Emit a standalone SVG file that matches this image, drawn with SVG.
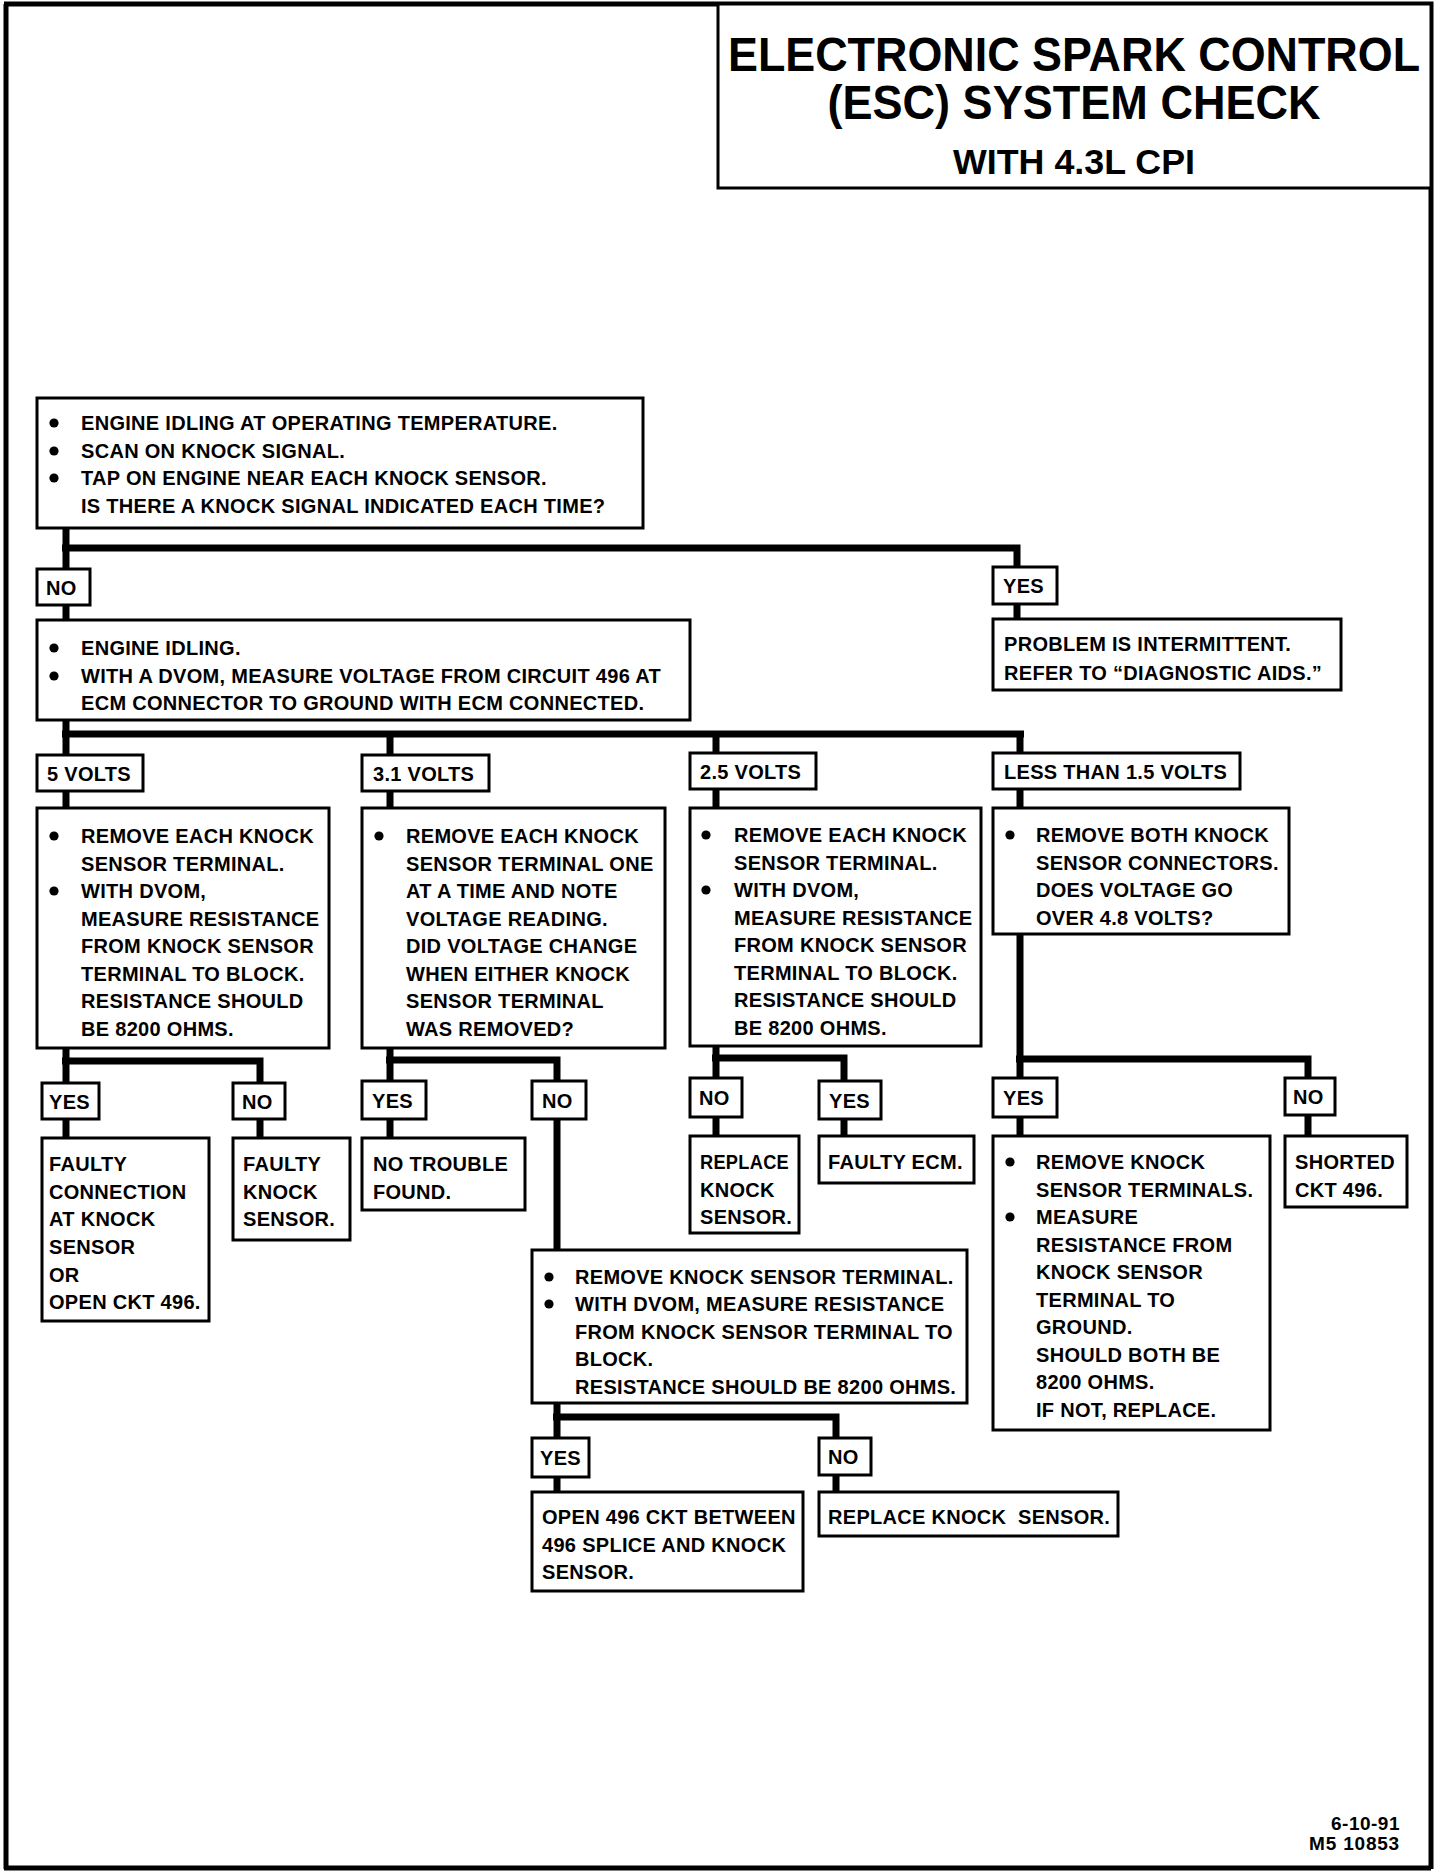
<svg xmlns="http://www.w3.org/2000/svg" width="1456" height="1874" viewBox="0 0 1456 1874">
<style>
.bx{fill:#fff;stroke:#000;stroke-width:3}
.fr{fill:none;stroke:#000;stroke-width:5}
.c{fill:none;stroke:#000;stroke-width:7}
.dot{fill:#000}
text{font-family:"Liberation Sans",Arial,sans-serif;font-weight:bold;fill:#000}
.t{font-size:20px;letter-spacing:0.3px}
.h{text-anchor:middle}
</style>
<defs><circle id="bul" class="dot" r="4.6"/></defs>
<rect width="1456" height="1874" fill="#fff"/>
<path class="fr" d="M6,4 V1869 M4,4 H1431 V1869 M4,1868 H1431"/>
<g id="title">
<rect class="bx" x="718" y="4" width="713" height="184"/>
<text class="h" transform="matrix(0.9 0 0 1 1074 71)" font-size="49" textLength="769" lengthAdjust="spacingAndGlyphs">ELECTRONIC SPARK CONTROL</text>
<text class="h" transform="matrix(0.9 0 0 1 1074 119)" font-size="49" textLength="548" lengthAdjust="spacingAndGlyphs">(ESC) SYSTEM CHECK</text>
<text class="h" transform="matrix(0.9 0 0 1 1074 174)" font-size="36" textLength="269" lengthAdjust="spacingAndGlyphs">WITH 4.3L CPI</text>
</g>
<g id="connectors">
<path class="c" d="M66,528 V569 M62,548 H1017 V567"/>
<path class="c" d="M66,605 V620 M1017,604 V619"/>
<path class="c" d="M66,720 V755 M62,734 H1024 M390,734 V755 M716,734 V753 M1020,734 V753"/>
<path class="c" d="M66,791 V808 M390,791 V808 M716,789 V808 M1020,789 V808"/>
<path class="c" d="M66,1048 V1083 M62,1061 H260 V1083 M66,1119 V1138 M260,1119 V1138"/>
<path class="c" d="M390,1048 V1081 M386,1060 H557 V1081 M390,1119 V1138 M557,1119 V1250"/>
<path class="c" d="M557,1403 V1438 M553,1417 H836 V1438 M557,1477 V1492 M836,1475 V1492"/>
<path class="c" d="M716,1046 V1078 M712,1058 H844 V1081 M716,1117 V1136 M844,1119 V1136"/>
<path class="c" d="M1020,934 V1078 M1016,1059 H1308 V1078 M1020,1117 V1136 M1308,1115 V1136"/>
</g>
<g id="n-start">
<rect class="bx" x="37" y="398" width="606" height="130"/>
<use href="#bul" x="54" y="423"/><use href="#bul" x="54" y="451"/><use href="#bul" x="54" y="478"/>
<text class="t" x="81" y="430">ENGINE IDLING AT OPERATING TEMPERATURE.</text>
<text class="t" x="81" y="458">SCAN ON KNOCK SIGNAL.</text>
<text class="t" x="81" y="485">TAP ON ENGINE NEAR EACH KNOCK SENSOR.</text>
<text class="t" x="81" y="513">IS THERE A KNOCK SIGNAL INDICATED EACH TIME?</text>
</g>
<g id="l-no1"><rect class="bx" x="37" y="569" width="53" height="36"/><text class="t" x="46" y="595">NO</text></g>
<g id="l-yes1"><rect class="bx" x="993" y="567" width="64" height="37"/><text class="t" x="1003" y="593">YES</text></g>
<g id="n-idle">
<rect class="bx" x="37" y="620" width="653" height="100"/>
<use href="#bul" x="54" y="648"/><use href="#bul" x="54" y="676"/>
<text class="t" x="81" y="655">ENGINE IDLING.</text>
<text class="t" x="81" y="683" letter-spacing="0.55">WITH A DVOM, MEASURE VOLTAGE FROM CIRCUIT 496 AT</text>
<text class="t" x="81" y="710">ECM CONNECTOR TO GROUND WITH ECM CONNECTED.</text>
</g>
<g id="n-intermittent">
<rect class="bx" x="993" y="619" width="348" height="71"/>
<text class="t" x="1004" y="651">PROBLEM IS INTERMITTENT.</text>
<text class="t" x="1004" y="680">REFER TO “DIAGNOSTIC AIDS.”</text>
</g>
<g id="l-5v"><rect class="bx" x="37" y="755" width="106" height="36"/><text class="t" x="47" y="781">5 VOLTS</text></g>
<g id="l-31v"><rect class="bx" x="362" y="755" width="127" height="36"/><text class="t" x="373" y="781">3.1 VOLTS</text></g>
<g id="l-25v"><rect class="bx" x="690" y="753" width="126" height="36"/><text class="t" x="700" y="779">2.5 VOLTS</text></g>
<g id="l-less"><rect class="bx" x="993" y="753" width="247" height="36"/><text class="t" x="1004" y="779">LESS THAN 1.5 VOLTS</text></g>
<g id="n-5v">
<rect class="bx" x="37" y="808" width="292" height="240"/>
<use href="#bul" x="54" y="836"/><use href="#bul" x="54" y="891"/>
<text class="t" x="81" y="843">REMOVE EACH KNOCK</text>
<text class="t" x="81" y="871">SENSOR TERMINAL.</text>
<text class="t" x="81" y="898">WITH DVOM,</text>
<text class="t" x="81" y="926">MEASURE RESISTANCE</text>
<text class="t" x="81" y="953">FROM KNOCK SENSOR</text>
<text class="t" x="81" y="981">TERMINAL TO BLOCK.</text>
<text class="t" x="81" y="1008">RESISTANCE SHOULD</text>
<text class="t" x="81" y="1036">BE 8200 OHMS.</text>
</g>
<g id="n-31v">
<rect class="bx" x="362" y="808" width="303" height="240"/>
<use href="#bul" x="379" y="836"/>
<text class="t" x="406" y="843">REMOVE EACH KNOCK</text>
<text class="t" x="406" y="871">SENSOR TERMINAL ONE</text>
<text class="t" x="406" y="898">AT A TIME AND NOTE</text>
<text class="t" x="406" y="926">VOLTAGE READING.</text>
<text class="t" x="406" y="953">DID VOLTAGE CHANGE</text>
<text class="t" x="406" y="981">WHEN EITHER KNOCK</text>
<text class="t" x="406" y="1008">SENSOR TERMINAL</text>
<text class="t" x="406" y="1036">WAS REMOVED?</text>
</g>
<g id="n-25v">
<rect class="bx" x="690" y="808" width="291" height="238"/>
<use href="#bul" x="706" y="835"/><use href="#bul" x="706" y="890"/>
<text class="t" x="734" y="842">REMOVE EACH KNOCK</text>
<text class="t" x="734" y="870">SENSOR TERMINAL.</text>
<text class="t" x="734" y="897">WITH DVOM,</text>
<text class="t" x="734" y="925">MEASURE RESISTANCE</text>
<text class="t" x="734" y="952">FROM KNOCK SENSOR</text>
<text class="t" x="734" y="980">TERMINAL TO BLOCK.</text>
<text class="t" x="734" y="1007">RESISTANCE SHOULD</text>
<text class="t" x="734" y="1035">BE 8200 OHMS.</text>
</g>
<g id="n-less">
<rect class="bx" x="993" y="808" width="296" height="126"/>
<use href="#bul" x="1010" y="835"/>
<text class="t" x="1036" y="842">REMOVE BOTH KNOCK</text>
<text class="t" x="1036" y="870">SENSOR CONNECTORS.</text>
<text class="t" x="1036" y="897">DOES VOLTAGE GO</text>
<text class="t" x="1036" y="925">OVER 4.8 VOLTS?</text>
</g>
<g id="l-yes5"><rect class="bx" x="42" y="1083" width="57" height="36"/><text class="t" x="49" y="1109">YES</text></g>
<g id="l-no5"><rect class="bx" x="233" y="1083" width="52" height="36"/><text class="t" x="242" y="1109">NO</text></g>
<g id="n-faulty-conn">
<rect class="bx" x="42" y="1138" width="167" height="183"/>
<text class="t" x="49" y="1171">FAULTY</text>
<text class="t" x="49" y="1199">CONNECTION</text>
<text class="t" x="49" y="1226">AT KNOCK</text>
<text class="t" x="49" y="1254">SENSOR</text>
<text class="t" x="49" y="1282">OR</text>
<text class="t" x="49" y="1309">OPEN CKT 496.</text>
</g>
<g id="n-faulty-knock">
<rect class="bx" x="233" y="1138" width="117" height="102"/>
<text class="t" x="243" y="1171">FAULTY</text>
<text class="t" x="243" y="1199">KNOCK</text>
<text class="t" x="243" y="1226">SENSOR.</text>
</g>
<g id="l-yes31"><rect class="bx" x="362" y="1081" width="64" height="38"/><text class="t" x="372" y="1108">YES</text></g>
<g id="l-no31"><rect class="bx" x="532" y="1081" width="54" height="38"/><text class="t" x="542" y="1108">NO</text></g>
<g id="n-no-trouble">
<rect class="bx" x="362" y="1138" width="163" height="72"/>
<text class="t" x="373" y="1171">NO TROUBLE</text>
<text class="t" x="373" y="1199">FOUND.</text>
</g>
<g id="n-remove-terminal">
<rect class="bx" x="532" y="1250" width="435" height="153"/>
<use href="#bul" x="549" y="1277"/><use href="#bul" x="549" y="1304"/>
<text class="t" x="575" y="1284">REMOVE KNOCK SENSOR TERMINAL.</text>
<text class="t" x="575" y="1311">WITH DVOM, MEASURE RESISTANCE</text>
<text class="t" x="575" y="1339">FROM KNOCK SENSOR TERMINAL TO</text>
<text class="t" x="575" y="1366">BLOCK.</text>
<text class="t" x="575" y="1394">RESISTANCE SHOULD BE 8200 OHMS.</text>
</g>
<g id="l-yesb"><rect class="bx" x="532" y="1438" width="57" height="39"/><text class="t" x="540" y="1465">YES</text></g>
<g id="l-nob"><rect class="bx" x="819" y="1438" width="52" height="37"/><text class="t" x="828" y="1464">NO</text></g>
<g id="n-open496">
<rect class="bx" x="532" y="1492" width="271" height="99"/>
<text class="t" x="542" y="1524">OPEN 496 CKT BETWEEN</text>
<text class="t" x="542" y="1552">496 SPLICE AND KNOCK</text>
<text class="t" x="542" y="1579">SENSOR.</text>
</g>
<g id="n-replace-ks">
<rect class="bx" x="819" y="1492" width="299" height="44"/>
<text class="t" x="828" y="1524" xml:space="preserve">REPLACE KNOCK  SENSOR.</text>
</g>
<g id="l-no25"><rect class="bx" x="690" y="1078" width="52" height="39"/><text class="t" x="699" y="1105">NO</text></g>
<g id="l-yes25"><rect class="bx" x="819" y="1081" width="62" height="38"/><text class="t" x="829" y="1108">YES</text></g>
<g id="n-replace-knock">
<rect class="bx" x="690" y="1136" width="109" height="97"/>
<text class="t" x="700" y="1169" textLength="89" lengthAdjust="spacingAndGlyphs">REPLACE</text>
<text class="t" x="700" y="1197">KNOCK</text>
<text class="t" x="700" y="1224">SENSOR.</text>
</g>
<g id="n-faulty-ecm">
<rect class="bx" x="819" y="1136" width="155" height="47"/>
<text class="t" x="828" y="1169">FAULTY ECM.</text>
</g>
<g id="l-yesl"><rect class="bx" x="993" y="1078" width="64" height="39"/><text class="t" x="1003" y="1105">YES</text></g>
<g id="l-nol"><rect class="bx" x="1285" y="1078" width="50" height="37"/><text class="t" x="1293" y="1104">NO</text></g>
<g id="n-remove-terminals">
<rect class="bx" x="993" y="1136" width="277" height="294"/>
<use href="#bul" x="1010" y="1162"/><use href="#bul" x="1010" y="1217"/>
<text class="t" x="1036" y="1169">REMOVE KNOCK</text>
<text class="t" x="1036" y="1197">SENSOR TERMINALS.</text>
<text class="t" x="1036" y="1224">MEASURE</text>
<text class="t" x="1036" y="1252">RESISTANCE FROM</text>
<text class="t" x="1036" y="1279">KNOCK SENSOR</text>
<text class="t" x="1036" y="1307">TERMINAL TO</text>
<text class="t" x="1036" y="1334">GROUND.</text>
<text class="t" x="1036" y="1362">SHOULD BOTH BE</text>
<text class="t" x="1036" y="1389">8200 OHMS.</text>
<text class="t" x="1036" y="1417">IF NOT, REPLACE.</text>
</g>
<g id="n-shorted">
<rect class="bx" x="1285" y="1136" width="122" height="71"/>
<text class="t" x="1295" y="1169">SHORTED</text>
<text class="t" x="1295" y="1197">CKT 496.</text>
</g>
<g id="footer">
<text x="1400" y="1830" font-size="19" text-anchor="end" letter-spacing="0.5">6-10-91</text>
<text x="1400" y="1850" font-size="19" text-anchor="end" letter-spacing="0.8">M5 10853</text>
</g>
</svg>
